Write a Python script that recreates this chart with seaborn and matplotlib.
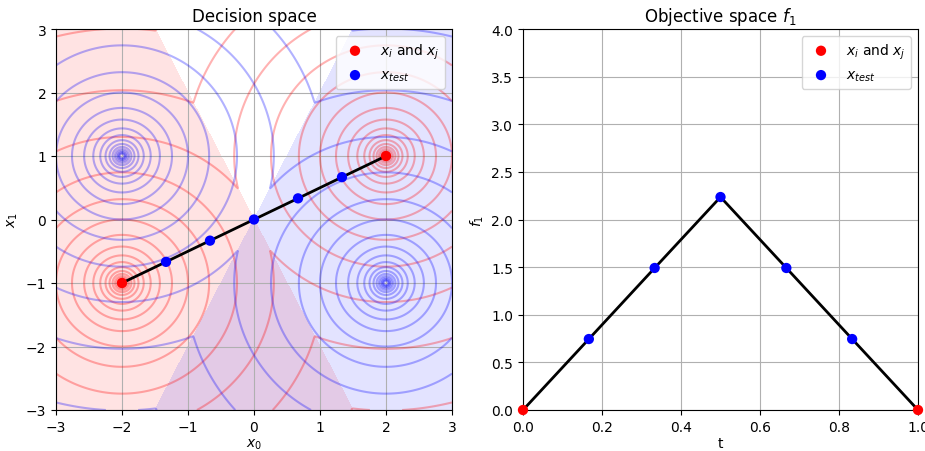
import numpy as np
import pandas as pd
import matplotlib
matplotlib.use("Agg")
import matplotlib.pyplot as plt
import seaborn as sns

# --- data ---
red_x = [-2.0, 2.0]          # x_i and x_j (decision space)
red_y = [-1.0, 1.0]
blue_cx = [-2.0, 2.0]        # centres of the second objective
blue_cy = [1.0, -1.0]
test_x = [-1.333, -0.667, 0.0, 0.667, 1.333]
test_y = [-0.667, -0.333, 0.0, 0.333, 0.667]
t_ends = [0.0, 1.0]
f1_ends = [0.0, 0.0]
t_test = [0.1667, 0.3333, 0.5, 0.6667, 0.8333]
f1_test = [0.745, 1.491, 2.236, 1.491, 0.745]
t_line = [0.0, 0.1667, 0.3333, 0.5, 0.6667, 0.8333, 1.0]
f1_line = [0.0, 0.745, 1.491, 2.236, 1.491, 0.745, 0.0]
contour_levels = [1.32 ** k for k in range(-12, 8)]

fig = plt.figure(figsize=(9.25, 4.52), dpi=100)
ax1 = fig.add_axes([56 / 925, 41 / 452, 396 / 925, 381 / 452])
ax2 = fig.add_axes([523 / 925, 41 / 452, 395 / 925, 381 / 452])

# grid for contours
gx = np.linspace(-3, 3, 400)
gy = np.linspace(-3, 3, 400)
X, Y = np.meshgrid(gx, gy)
dR = [np.hypot(X - a, Y - b) for a, b in zip(red_x, red_y)]
dB = [np.hypot(X - a, Y - b) for a, b in zip(blue_cx, blue_cy)]
F1 = np.minimum(dR[0], dR[1])
F2 = np.minimum(dB[0], dB[1])

ax1.contourf(X, Y, dR[0] - dR[1], levels=[-100, 0], colors=["red"], alpha=0.11)
ax1.contourf(X, Y, dB[1] - dB[0], levels=[-100, 0], colors=["blue"], alpha=0.11)
ax1.contour(X, Y, F1, levels=contour_levels, colors="red", alpha=0.3, linewidths=1.5)
ax1.contour(X, Y, F2, levels=contour_levels, colors="blue", alpha=0.3, linewidths=1.5)

seg = pd.DataFrame({"x": [red_x[0]] + test_x + [red_x[1]],
                    "y": [red_y[0]] + test_y + [red_y[1]]})
sns.lineplot(data=seg, x="x", y="y", color="black", lw=2, sort=False, ax=ax1, zorder=3)
sns.scatterplot(x=red_x, y=red_y, color="red", s=55, edgecolor="none",
                label="$x_i$ and $x_j$", ax=ax1, zorder=4)
sns.scatterplot(x=test_x, y=test_y, color="blue", s=55, edgecolor="none",
                label="$x_{test}$", ax=ax1, zorder=4)
ax1.set_xlim(-3, 3)
ax1.set_ylim(-3, 3)
ax1.set_xticks(range(-3, 4))
ax1.set_yticks(range(-3, 4))
ax1.grid(True)
ax1.set_xlabel("$x_0$", labelpad=2)
ax1.set_ylabel("$x_1$")
ax1.set_title("Decision space")
ax1.legend(loc="upper right")

sns.lineplot(x=t_line, y=f1_line, color="black", lw=2, ax=ax2, zorder=3)
sns.scatterplot(x=t_ends, y=f1_ends, color="red", s=55, edgecolor="none",
                label="$x_i$ and $x_j$", ax=ax2, zorder=4, clip_on=False)
sns.scatterplot(x=t_test, y=f1_test, color="blue", s=55, edgecolor="none",
                label="$x_{test}$", ax=ax2, zorder=4)
ax2.set_xlim(0, 1)
ax2.set_ylim(0, 4)
ax2.set_xticks([0, 0.2, 0.4, 0.6, 0.8, 1.0])
ax2.set_yticks(np.arange(0, 4.01, 0.5))
ax2.grid(True)
ax2.set_xlabel("t", labelpad=2)
ax2.set_ylabel("$f_1$")
ax2.set_title("Objective space $f_1$")
ax2.legend(loc="upper right")

fig.savefig("out.png", dpi=100)
